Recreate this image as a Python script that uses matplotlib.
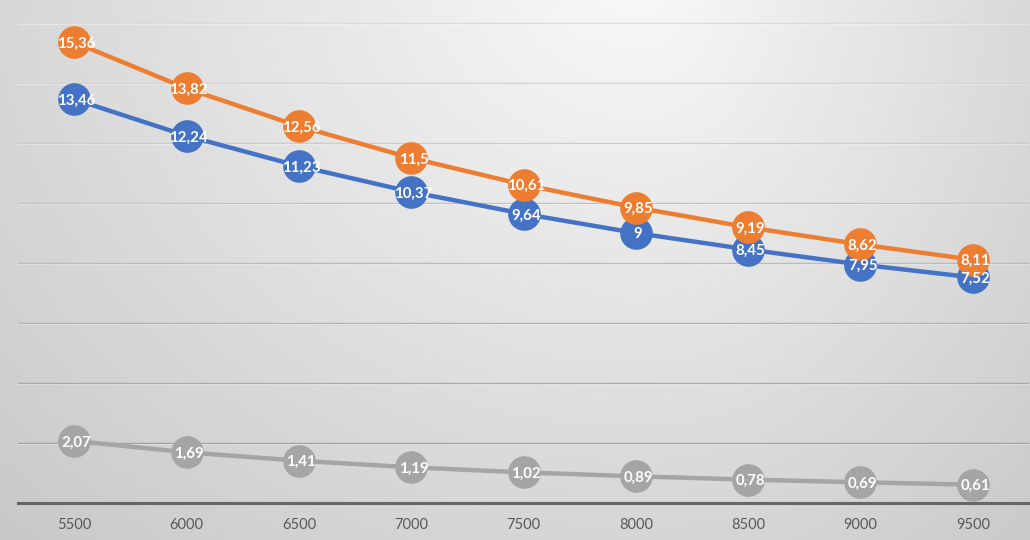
import numpy as np
import matplotlib
matplotlib.use("Agg")
import matplotlib.pyplot as plt

# Data
categories = ["5500", "6000", "6500", "7000", "7500", "8000", "8500", "9000", "9500"]
series_blue = [13.46, 12.24, 11.23, 10.37, 9.64, 9.00, 8.45, 7.95, 7.52]
series_orange = [15.36, 13.82, 12.56, 11.5, 10.61, 9.85, 9.19, 8.62, 8.11]
series_gray = [2.07, 1.69, 1.41, 1.19, 1.02, 0.89, 0.78, 0.69, 0.61]

W, H, DPI = 1030, 540, 100
fig = plt.figure(figsize=(W / DPI, H / DPI), dpi=DPI)

# Soft radial gradient background across the whole figure
bg_ax = fig.add_axes([0, 0, 1, 1])
bg_ax.set_axis_off()
yy, xx = np.mgrid[0:H, 0:W].astype(float)
cx, cy = 640.0, -30.0
sx = np.where(xx > cx, 470.0, 720.0)
d = np.sqrt(((xx - cx) / sx) ** 2 + ((yy - cy) / 620.0) ** 2)
val = 249 - 38 * np.clip(d, 0, 1.3)
img = np.dstack([val, val, val]) / 255.0
bg_ax.imshow(img, extent=[0, W, H, 0], aspect="auto", interpolation="bilinear")
bg_ax.set_xlim(0, W)
bg_ax.set_ylim(H, 0)

# Plot area
left = 18 / W
width = 1011 / W
bottom = (H - 503) / H
height = 503 / H
ax = fig.add_axes([left, bottom, width, height])
ax.patch.set_alpha(0)
ax.set_xlim(-0.5, len(categories) - 0.5)
ax.set_ylim(0, 503 / 30)

# Horizontal gridlines, darker toward the bottom
for v in range(2, 17, 2):
    t = v / 16
    g = (0.60 * (1 - t) + 0.86 * t)
    ax.axhline(v, color=(g, g, g), lw=1.0, zorder=1)
    ax.axhline(v - 0.035, color=(1, 1, 1), lw=0.8, alpha=0.35, zorder=1)

for s in ["top", "right", "left"]:
    ax.spines[s].set_visible(False)
ax.spines["bottom"].set_color("#666666")
ax.spines["bottom"].set_linewidth(2.2)
ax.set_yticks([])

x = np.arange(len(categories))
ax.set_xticks(x)
ax.set_xticklabels(categories, fontsize=10.5, color="#595959", family="Lato")
ax.tick_params(axis="x", length=0, pad=11)

lw = 3.2
ms = 23.5
for vals, col, z in [(series_gray, "#A5A5A5", 3), (series_blue, "#4472C4", 4), (series_orange, "#ED7D31", 5)]:
    ax.plot(x, vals, color=col, lw=lw, marker="o", markersize=ms,
            markeredgewidth=0, solid_capstyle="round", zorder=z)

def fmt(v):
    s = f"{v:.2f}".rstrip("0").rstrip(".")
    return s.replace(".", ",")

for vals in (series_gray, series_blue, series_orange):
    for xi, v in zip(x, vals):
        ax.text(xi + 0.02, v - 0.05, fmt(v), ha="center", va="center", color="white",
                fontsize=10.8, fontweight="bold", family="Lato", zorder=10)

fig.savefig("out.png", dpi=DPI)
